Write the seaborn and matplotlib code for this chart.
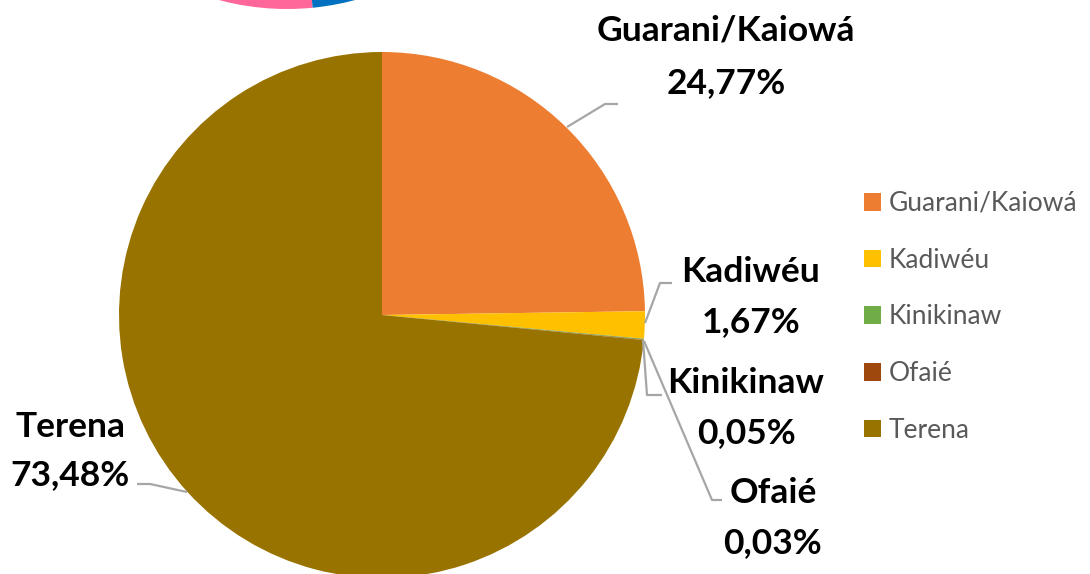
import matplotlib
matplotlib.use("Agg")
import matplotlib.pyplot as plt
import seaborn as sns

# ---- data ----
categories = ["Guarani/Kaiowá", "Kadiwéu", "Kinikinaw", "Ofaié", "Terena"]
values = [24.77, 1.67, 0.05, 0.03, 73.48]
value_labels = ["24,77%", "1,67%", "0,05%", "0,03%", "73,48%"]
colors = ["#ED7D31", "#FFC000", "#70AD47", "#9E480E", "#997300"]

# partially visible neighbouring pie at the top (only its bottom edge shows)
top_values = [50, 50]
top_colors = ["#FF6699", "#0070C0"]

sns.set_theme(style="white")
plt.rcParams["font.family"] = ["Lato", "DejaVu Sans"]

W, H = 1090, 574
fig = plt.figure(figsize=(W / 100, H / 100), dpi=100)
ax = fig.add_axes([0, 0, 1, 1])


def Y(py):
    return H - py


# top neighbouring pie
ax.pie(top_values, colors=top_colors, startangle=95.6, counterclock=True,
       center=(287, Y(-254)), radius=263, wedgeprops=dict(linewidth=0),
       frame=True)

# main pie
wedges, _ = ax.pie(values, colors=colors, startangle=90, counterclock=False,
                   center=(382, Y(315)), radius=263,
                   wedgeprops=dict(linewidth=0), frame=True)
ax.set_xlim(0, W)
ax.set_ylim(0, H)
ax.set_aspect("equal")
ax.axis("off")

# data labels and leader lines
label_pos = [(726, 31, 83), (751, 272, 322), (746, 383, 433),
             (773, 493, 543), (70, 427, 475)]
leaders = [
    [(567, 127), (605, 104), (618, 104)],
    [(645, 323), (660, 283), (672, 283)],
    [(643, 340), (647, 395), (662, 395)],
    [(644, 341), (712, 500), (722, 500)],
    [(187, 492), (150, 484), (137, 484)],
]
for cat, lab, (x, y1, y2), pts in zip(categories, value_labels, label_pos, leaders):
    ax.text(x, Y(y1), cat, ha="center", va="center", fontsize=25.5,
            fontweight="bold", color="black")
    ax.text(x, Y(y2), lab, ha="center", va="center", fontsize=25.5,
            fontweight="bold", color="black")
    xs = [p[0] for p in pts]
    ys = [Y(p[1]) for p in pts]
    ax.plot(xs, ys, color="#A6A6A6", lw=1.6, solid_capstyle="butt")

leg = ax.legend(wedges, categories, loc="upper left",
                bbox_to_anchor=(864 / W, Y(191) / H), frameon=False,
                fontsize=19, labelcolor="#595959", handlelength=0.65,
                handleheight=0.65, handletextpad=0.3, labelspacing=1.2,
                borderaxespad=0, borderpad=0)

fig.savefig("out.png", dpi=100)
